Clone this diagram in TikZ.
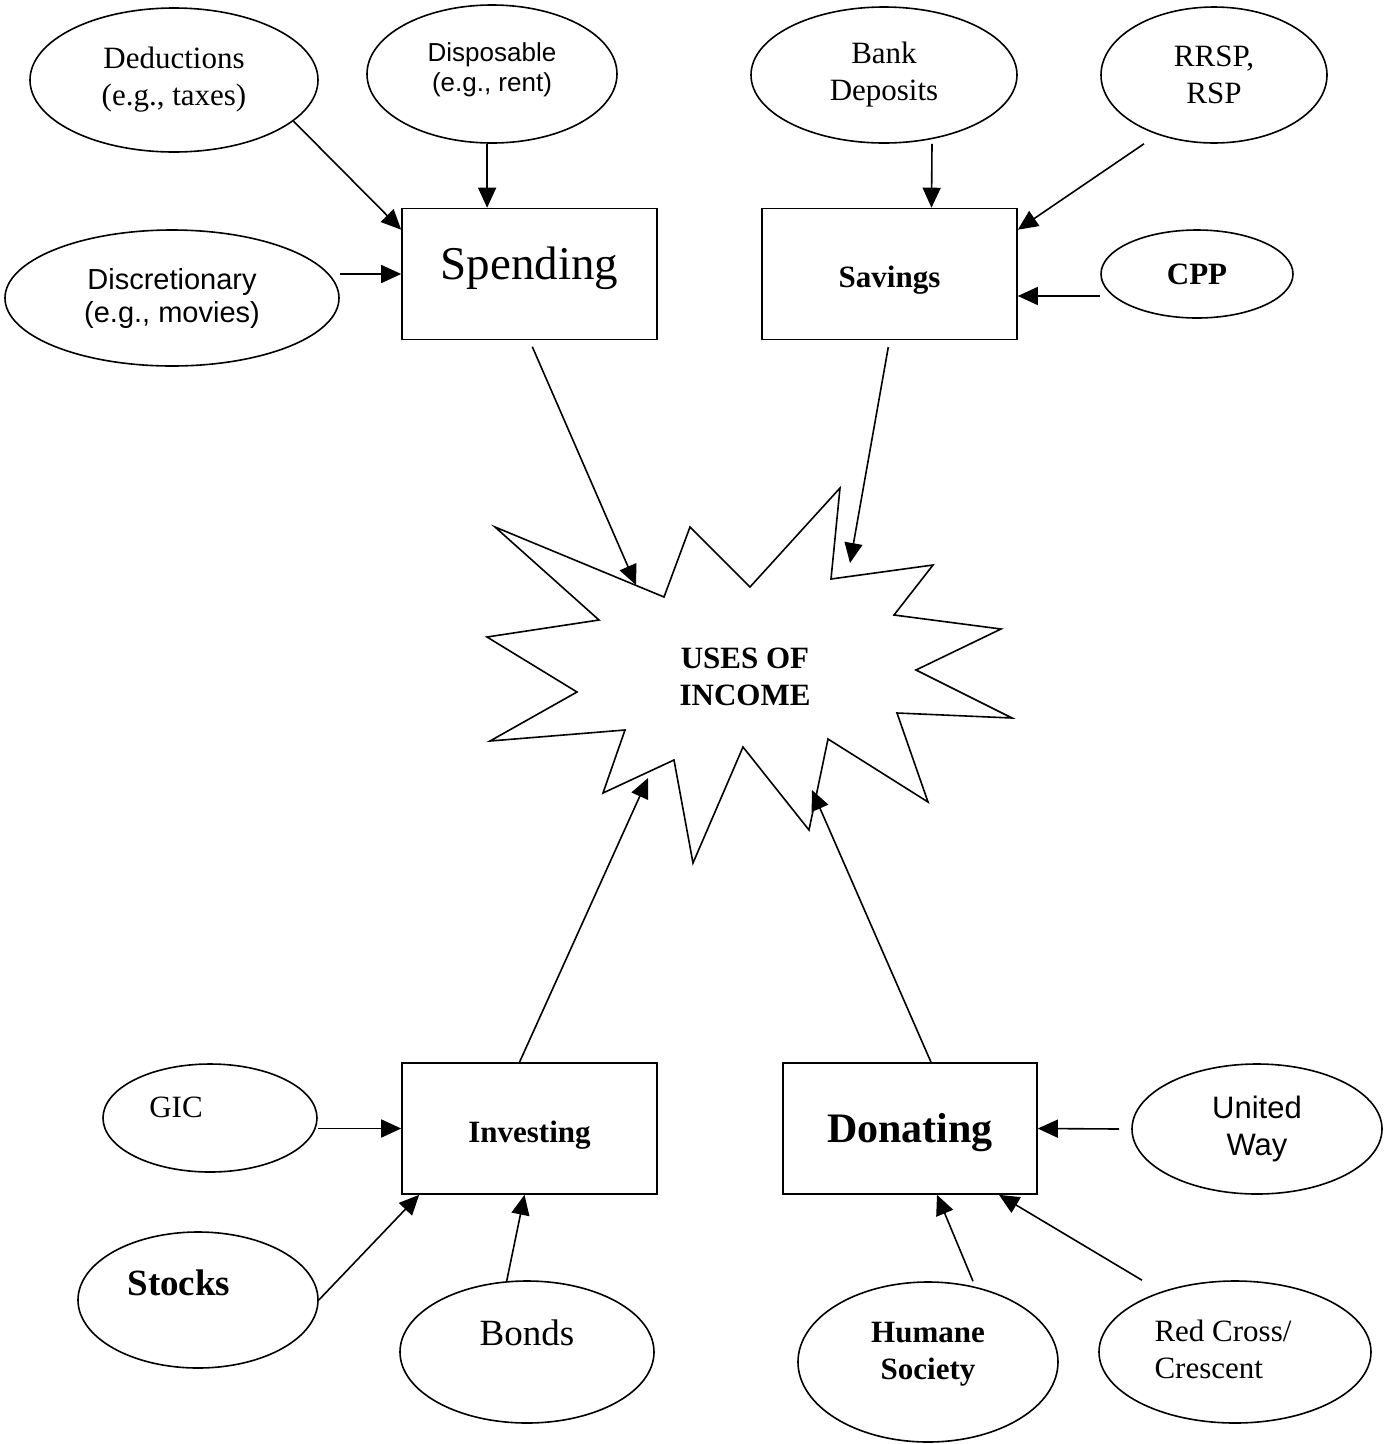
\documentclass[tikz,border=0pt]{standalone}
\usepackage{fontspec}
\setmainfont{Liberation Serif}
\setsansfont{Liberation Sans}
\usetikzlibrary{shapes.geometric,arrows.meta}

\begin{document}
\begin{tikzpicture}[x=1pt,y=-1pt,line width=1.6pt,>={Triangle[length=20pt,width=18pt]}]
  \def\bw{255pt}
  \def\bh{131pt}
  \def\fsz#1#2{\fontsize{#1}{#2}\selectfont}

\tikzstyle{oval}=[ellipse,draw,inner sep=0pt,align=center]
\tikzstyle{box}=[rectangle,draw,minimum width=\bw,minimum height=\bh,inner sep=0pt]
\tikzstyle{rmtxt}=[font=\fsz{31}{37}]
\tikzstyle{bftxt}=[font=\bfseries\fsz{31}{37}]
\useasboundingbox (0,0) rectangle (1388,1444);

\node[oval,rmtxt,minimum width=288pt,minimum height=144pt] (ded) at (174,80) {Deductions\\(e.g., taxes)};
\node[oval,font=\sffamily\fsz{26}{30},minimum width=250pt,minimum height=138pt,text depth=14pt] (disp) at (492,74) {Disposable\\(e.g., rent)};
\node[oval,font=\sffamily\fsz{29}{33},minimum width=334pt,minimum height=136pt] (disc) at (172,298) {Discretionary\\(e.g., movies)};
\node[box,font=\fsz{47}{54},text depth=22pt] (spend) at (529.5,274) {Spending};
\node[oval,rmtxt,minimum width=266pt,minimum height=136pt] (bank) at (884,75) {Bank\\Deposits};
\node[oval,rmtxt,minimum width=226pt,minimum height=136pt] (rrsp) at (1214,75) {RRSP,\\RSP};
\node[box,bftxt,text height=33pt] (sav) at (889.5,274) {Savings};
\node[oval,bftxt,minimum width=192pt,minimum height=88pt] (cpp) at (1197,274) {CPP};

\draw (495,527) -- (664,597) -- (690,527) -- (750,587) -- (840,488) -- (831,579) -- (933,565) -- (894,615)
  -- (1001,629) -- (916,670) -- (1012,718) -- (897,713) -- (928,802) -- (828,739) -- (809,830) -- (743,747)
  -- (693,863) -- (674,760) -- (603,793) -- (625,730) -- (490,741) -- (577,692) -- (487,637) -- (599,620) -- cycle;
\node[bftxt,align=center] (uses) at (745,677) {USES OF\\INCOME};
\coordinate (uses-a) at (636,585);
\coordinate (uses-b) at (850,563);
\coordinate (uses-c) at (648,778);
\coordinate (uses-d) at (812,790);

\node[box,bftxt,text height=35pt] (inv) at (529.5,1128.5) {Investing};
\node[box,font=\bfseries\fsz{42}{48},minimum width=254pt,text height=38pt] (don) at (910,1128.5) {Donating};
\node[oval,minimum width=214pt,minimum height=108pt,label={[rmtxt,xshift=-34pt,yshift=11pt]center:GIC}] (gic) at (210,1118) {};
\node[oval,minimum width=240pt,minimum height=136pt,label={[font=\bfseries\fsz{37}{42},xshift=-19pt,yshift=17pt]center:Stocks}] (stocks) at (198,1300) {};
\node[oval,minimum width=254pt,minimum height=142pt,label={[font=\fsz{37}{42},yshift=19pt]center:Bonds}] (bonds) at (527,1352) {};
\node[oval,font=\sffamily\fsz{31}{37},minimum width=250pt,minimum height=130pt] (uw) at (1257,1129) {United\\Way};
\node[oval,minimum width=260pt,minimum height=160pt,label={[bftxt,align=center,yshift=8pt]center:{Humane\\Society}}] (hum) at (928,1362) {};
\node[oval,minimum width=272pt,minimum height=142pt,label={[rmtxt,align=left,xshift=-12pt,yshift=3pt]center:{Red Cross/\\Crescent}}] (rc) at (1235,1352) {};

\draw[->] (ded.-19) -- ([yshift=-22pt]spend.north west);
\draw[->] (disp.-94) -- (disp.-94 |- spend.north);
\draw[->] (disc.east |- spend.west) -- (spend.west);
\draw[->] ([xshift=48pt]bank.south) -- ([xshift=42pt]sav.north);
\draw[->] ([xshift=-70pt]rrsp.south) -- ([yshift=-22pt]sav.north east);
\draw[->] ([yshift=-22pt]cpp.west) -- ([yshift=-22pt]sav.east);
\draw[->,shorten <=7pt] (spend.south) -- (uses-a);
\draw[->,shorten <=7pt] (sav.south) -- (uses-b);
\draw[->] ([xshift=-10pt]inv.north) -- (uses-c);
\draw[->] ([xshift=21pt]don.north) -- (uses-d);
\draw[->] (gic.east |- inv.west) -- (inv.west);
\draw[->] (stocks.east) -- ([xshift=18pt]inv.south west);
\draw[->] (bonds.106) -- ([xshift=-5pt]inv.south);
\draw[->] ([xshift=-12pt]uw.west) -- (don.east);
\draw[->] ([xshift=45pt]hum.north) -- ([xshift=27pt]don.south);
\draw[->] ([xshift=-93pt]rc.north) -- ([xshift=89pt]don.south);
\end{tikzpicture}
\end{document}
